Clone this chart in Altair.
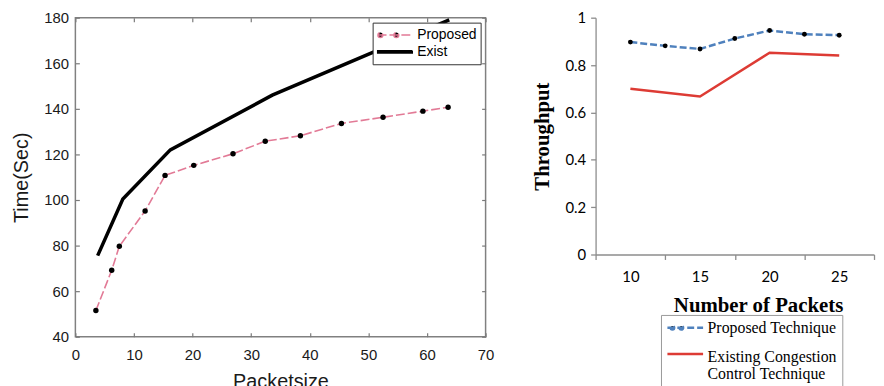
import altair as alt
import pandas as pd

# ---------------- Left panel data ----------------
left_prop_x = [3.5, 6.2, 7.5, 11.9, 15.3, 20.2, 26.9, 32.4, 38.4, 45.4, 52.5, 59.3, 63.6]
left_prop_y = [51.5, 69.2, 79.7, 95.2, 110.8, 115.2, 120.3, 125.8, 128.2, 133.6, 136.3, 139.0, 140.7]
left_exist_x = [3.8, 8.1, 16.2, 33.6, 63.8]
left_exist_y = [75.6, 100.4, 122.0, 146.0, 179.0]
left_series = ["Proposed", "Exist"]
left_x_ticks = [0, 10, 20, 30, 40, 50, 60, 70]
left_y_ticks = [40, 60, 80, 100, 120, 140, 160, 180]

# ---------------- Right panel data ----------------
right_prop_x = [10, 12.5, 15, 17.5, 20, 22.5, 25]
right_prop_y = [0.897, 0.881, 0.868, 0.912, 0.946, 0.930, 0.926]
right_exist_x = [10, 15, 20, 25]
right_exist_y = [0.700, 0.667, 0.852, 0.840]
right_series = ["Proposed Technique", "Existing Congestion Control Technique"]
right_x_labels = [10, 15, 20, 25]
right_x_ticks = [7.5, 12.5, 17.5, 22.5, 27.5]
right_y_ticks = [0, 0.2, 0.4, 0.6, 0.8, 1.0]

SANS = "Liberation Sans"
SERIF = "Liberation Serif"
LW, LH = 414, 322
RW, RH = 281, 239

PINK = "#E27A96"
BLUE = "#4F81BD"
RED = "#DD3B34"


def circ(cx, r):
    return f"M{cx - r:.3f},0a{r},{r} 0 1,0 {2 * r:.3f},0a{r},{r} 0 1,0 {-2 * r:.3f},0Z"


DOTS_L = "M-1,0H1" + circ(-0.84, 0.14) + circ(0.08, 0.14)
BAR_L = "M-1,-0.06H1V0.06H-1Z"
DOTS_R = "M-1,0H1" + circ(-0.72, 0.1) + circ(-0.22, 0.1)
LINE_R = "M-1,-0.15H1"

# ---------------- Left panel ----------------
lp = pd.DataFrame({"x": left_prop_x, "y": left_prop_y})
le = pd.DataFrame({"x": left_exist_x, "y": left_exist_y})
lleg = pd.DataFrame({"series": left_series})

lxs = alt.Scale(domain=[0, 70], nice=False, zero=False)
lys = alt.Scale(domain=[40, 180], nice=False, zero=False)

tick_common = dict(offset=-4, tickSize=4, tickColor="#7a7a7a", tickWidth=1.2,
                   domain=False, grid=False)

l_xaxis = alt.Axis(orient="bottom", values=left_x_ticks, labelFont=SANS, labelFontSize=15,
                   labelColor="#1a1a1a", labelPadding=11, labelFlush=False, title="Packetsize",
                   titleFont=SANS, titleFontSize=20, titleFontWeight="normal",
                   titleColor="#1a1a1a", titlePadding=9, **tick_common)
l_yaxis = alt.Axis(orient="left", values=left_y_ticks, labelFont=SANS, labelFontSize=15,
                   labelColor="#1a1a1a", labelPadding=7, labelFlush=False, title="Time(Sec)",
                   titleFont=SANS, titleFontSize=20, titleFontWeight="normal",
                   titleColor="#1a1a1a", titlePadding=12, **tick_common)
l_xaxis_top = alt.Axis(orient="top", values=left_x_ticks, labels=False, title=None, **tick_common)
l_yaxis_right = alt.Axis(orient="right", values=left_y_ticks, labels=False, title=None, **tick_common)

l_prop_line = alt.Chart(lp).mark_line(color=PINK, strokeWidth=1.6, strokeDash=[9, 3]).encode(
    x=alt.X("x:Q", scale=lxs, axis=l_xaxis),
    y=alt.Y("y:Q", scale=lys, axis=l_yaxis),
)
l_exist_line = alt.Chart(le).mark_line(color="black", strokeWidth=3.5).encode(
    x=alt.X("x:Q", scale=lxs, axis=None),
    y=alt.Y("y:Q", scale=lys, axis=None),
)
l_points = alt.Chart(lp).mark_point(filled=True, color="black", size=30, opacity=1).encode(
    x=alt.X("x:Q", scale=lxs, axis=l_xaxis_top),
    y=alt.Y("y:Q", scale=lys, axis=l_yaxis_right),
)

l_legend = alt.Legend(title=None, orient="top-right", offset=5, padding=4, fillColor="white",
                      strokeColor="#333333", symbolSize=1225, symbolStrokeWidth=1.5,
                      symbolOpacity=1, labelFont=SANS, labelFontSize=14, labelColor="black",
                      labelOffset=4, clipHeight=17, rowPadding=0)
l_leg_layer = alt.Chart(lleg).mark_point(filled=True, opacity=1).encode(
    fill=alt.Fill("series:N", scale=alt.Scale(domain=left_series, range=["black", "black"]), legend=l_legend),
    stroke=alt.Stroke("series:N", scale=alt.Scale(domain=left_series, range=[PINK, "black"]), legend=l_legend),
    shape=alt.Shape("series:N", scale=alt.Scale(domain=left_series, range=[DOTS_L, BAR_L]), legend=l_legend),
    strokeDash=alt.StrokeDash("series:N", scale=alt.Scale(domain=left_series, range=[[9, 3], [1, 0]]), legend=l_legend),
).transform_filter("false")

left = alt.layer(l_prop_line, l_exist_line, l_points, l_leg_layer).resolve_axis(
    x="independent", y="independent"
).properties(width=LW, height=LH, view=alt.ViewBackground(stroke="#808080", strokeWidth=1.5))

# ---------------- Right panel ----------------
rp = pd.DataFrame({"x": right_prop_x, "y": right_prop_y})
rex = pd.DataFrame({"x": right_exist_x, "y": right_exist_y})
rleg = pd.DataFrame({"series": right_series})

rxs = alt.Scale(domain=[7.5, 27.5], nice=False, zero=False)
rys = alt.Scale(domain=[0, 1], nice=False)

r_xaxis_labels = alt.Axis(orient="bottom", values=right_x_labels, ticks=False, domain=False,
                          grid=False, labelFont="Lato", labelFontSize=15, labelColor="black",
                          labelPadding=15, labelFlush=False, title="Number of Packets",
                          titleFont=SERIF, titleFontSize=21, titleFontWeight="bold",
                          titleColor="black", titlePadding=11, titleX=164)
r_xaxis_ticks = alt.Axis(orient="bottom", values=right_x_ticks, labels=False, title=None,
                         grid=False, domainColor="#8c8c8c", domainWidth=1.3,
                         tickColor="#8c8c8c", tickWidth=1.3, tickSize=5)
r_yaxis = alt.Axis(orient="left", values=right_y_ticks, format="~g", grid=False,
                   domainColor="#8c8c8c", domainWidth=1.3, tickColor="#8c8c8c", tickWidth=1.3,
                   tickSize=5, labelFont="Lato", labelFontSize=15, labelColor="black",
                   labelPadding=5, labelFlush=False, title="Throughput", titleFont=SERIF,
                   titleFontSize=21, titleFontWeight="bold", titleColor="black",
                   titlePadding=13)

r_exist = alt.Chart(rex).mark_line(color=RED, strokeWidth=2.5).encode(
    x=alt.X("x:Q", scale=rxs, axis=r_xaxis_labels),
    y=alt.Y("y:Q", scale=rys, axis=r_yaxis),
)
r_prop = alt.Chart(rp).mark_line(color=BLUE, strokeWidth=2.5, strokeDash=[7, 3]).encode(
    x=alt.X("x:Q", scale=rxs, axis=None),
    y=alt.Y("y:Q", scale=rys, axis=None),
)
r_pts = alt.Chart(rp).mark_point(filled=True, color="black", size=24, opacity=1).encode(
    x=alt.X("x:Q", scale=rxs, axis=r_xaxis_ticks),
    y=alt.Y("y:Q", scale=rys, axis=None),
)

r_legend = alt.Legend(title=None, orient="none", legendX=66, legendY=300, padding=5,
                      fillColor="white", strokeColor="#999999", symbolSize=1296,
                      symbolStrokeWidth=2.5, symbolOpacity=1, labelFont=SERIF,
                      labelFontSize=16, labelColor="black", labelOffset=3, clipHeight=16,
                      rowPadding=13, labelLimit=300,
                      labelExpr="datum.label == 'Existing Congestion Control Technique' ? "
                                "['Existing Congestion', 'Control Technique'] : datum.label")
r_leg_layer = alt.Chart(rleg).mark_point(filled=True, opacity=1).encode(
    fill=alt.Fill("series:N", scale=alt.Scale(domain=right_series, range=["black", "black"]), legend=r_legend),
    stroke=alt.Stroke("series:N", scale=alt.Scale(domain=right_series, range=[BLUE, RED]), legend=r_legend),
    shape=alt.Shape("series:N", scale=alt.Scale(domain=right_series, range=[DOTS_R, LINE_R]), legend=r_legend),
    strokeDash=alt.StrokeDash("series:N", scale=alt.Scale(domain=right_series, range=[[7, 3], [1, 0]]), legend=r_legend),
).transform_filter("false")

right = alt.layer(r_exist, r_prop, r_pts, r_leg_layer).resolve_axis(
    x="independent", y="independent"
).properties(width=RW, height=RH, view=alt.ViewBackground(stroke="transparent"))

chart = alt.hconcat(left, right, spacing=35).resolve_scale(
    fill="independent", stroke="independent", shape="independent", strokeDash="independent"
).resolve_legend(
    fill="independent", stroke="independent", shape="independent", strokeDash="independent"
).properties(
    padding={"left": 3, "top": 0, "right": 0, "bottom": 0}
).configure_view(stroke="transparent")

chart.save("out.html", embed_options={"renderer": "svg", "actions": False})
